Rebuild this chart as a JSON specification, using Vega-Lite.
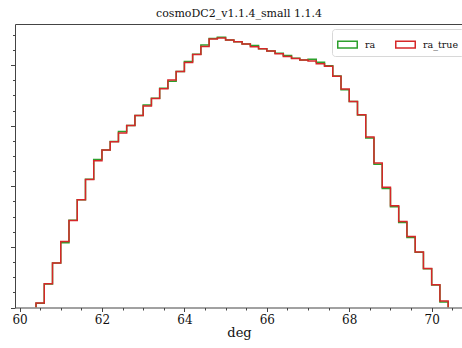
{
  "$schema": "https://vega.github.io/schema/vega-lite/v6.json",
  "autosize": "none",
  "padding": {"left": 15, "top": 24, "right": -1, "bottom": 40.5},
  "width": 448,
  "height": 283.5,
  "background": "white",
  "config": {
    "view": {"stroke": "#444", "strokeWidth": 1},
    "font": "DejaVu Serif",
    "axis": {"domain": false, "tickColor": "#444", "labelColor": "#111", "titleColor": "#111", "grid": false, "labelFont": "DejaVu Serif", "titleFont": "DejaVu Serif", "titleFontWeight": "normal"}
  },
  "title": {"text": "cosmoDC2_v1.1.4_small 1.1.4", "font": "DejaVu Serif", "fontSize": 11, "fontWeight": "normal", "color": "#111", "offset": 5},
  "data": {"values": [
    {"s": "ra", "i": 0, "x": 60.4, "n": 0},
    {"s": "ra", "i": 1, "x": 60.4, "n": 70},
    {"s": "ra", "i": 2, "x": 60.6, "n": 388},
    {"s": "ra", "i": 3, "x": 60.8, "n": 735},
    {"s": "ra", "i": 4, "x": 61.0, "n": 1070},
    {"s": "ra", "i": 5, "x": 61.2, "n": 1440},
    {"s": "ra", "i": 6, "x": 61.4, "n": 1780},
    {"s": "ra", "i": 7, "x": 61.6, "n": 2115},
    {"s": "ra", "i": 8, "x": 61.8, "n": 2441},
    {"s": "ra", "i": 9, "x": 62.0, "n": 2600},
    {"s": "ra", "i": 10, "x": 62.2, "n": 2740},
    {"s": "ra", "i": 11, "x": 62.4, "n": 2903},
    {"s": "ra", "i": 12, "x": 62.6, "n": 3005},
    {"s": "ra", "i": 13, "x": 62.8, "n": 3170},
    {"s": "ra", "i": 14, "x": 63.0, "n": 3343},
    {"s": "ra", "i": 15, "x": 63.2, "n": 3452},
    {"s": "ra", "i": 16, "x": 63.4, "n": 3619},
    {"s": "ra", "i": 17, "x": 63.6, "n": 3732},
    {"s": "ra", "i": 18, "x": 63.8, "n": 3896},
    {"s": "ra", "i": 19, "x": 64.0, "n": 4058},
    {"s": "ra", "i": 20, "x": 64.2, "n": 4178},
    {"s": "ra", "i": 21, "x": 64.4, "n": 4332},
    {"s": "ra", "i": 22, "x": 64.6, "n": 4439},
    {"s": "ra", "i": 23, "x": 64.8, "n": 4461},
    {"s": "ra", "i": 24, "x": 65.0, "n": 4415},
    {"s": "ra", "i": 25, "x": 65.2, "n": 4386},
    {"s": "ra", "i": 26, "x": 65.4, "n": 4350},
    {"s": "ra", "i": 27, "x": 65.6, "n": 4322},
    {"s": "ra", "i": 28, "x": 65.8, "n": 4270},
    {"s": "ra", "i": 29, "x": 66.0, "n": 4233},
    {"s": "ra", "i": 30, "x": 66.2, "n": 4196},
    {"s": "ra", "i": 31, "x": 66.4, "n": 4157},
    {"s": "ra", "i": 32, "x": 66.6, "n": 4112},
    {"s": "ra", "i": 33, "x": 66.8, "n": 4085},
    {"s": "ra", "i": 34, "x": 67.0, "n": 4096},
    {"s": "ra", "i": 35, "x": 67.2, "n": 4046},
    {"s": "ra", "i": 36, "x": 67.4, "n": 3990},
    {"s": "ra", "i": 37, "x": 67.6, "n": 3820},
    {"s": "ra", "i": 38, "x": 67.8, "n": 3592},
    {"s": "ra", "i": 39, "x": 68.0, "n": 3398},
    {"s": "ra", "i": 40, "x": 68.2, "n": 3176},
    {"s": "ra", "i": 41, "x": 68.4, "n": 2797},
    {"s": "ra", "i": 42, "x": 68.6, "n": 2363},
    {"s": "ra", "i": 43, "x": 68.8, "n": 1963},
    {"s": "ra", "i": 44, "x": 69.0, "n": 1663},
    {"s": "ra", "i": 45, "x": 69.2, "n": 1404},
    {"s": "ra", "i": 46, "x": 69.4, "n": 1157},
    {"s": "ra", "i": 47, "x": 69.6, "n": 910},
    {"s": "ra", "i": 48, "x": 69.8, "n": 640},
    {"s": "ra", "i": 49, "x": 70.0, "n": 372},
    {"s": "ra", "i": 50, "x": 70.2, "n": 91},
    {"s": "ra", "i": 51, "x": 70.4, "n": 0},
    {"s": "ra_true", "i": 0, "x": 60.4, "n": 0},
    {"s": "ra_true", "i": 1, "x": 60.4, "n": 73},
    {"s": "ra_true", "i": 2, "x": 60.6, "n": 391},
    {"s": "ra_true", "i": 3, "x": 60.8, "n": 733},
    {"s": "ra_true", "i": 4, "x": 61.0, "n": 1089},
    {"s": "ra_true", "i": 5, "x": 61.2, "n": 1436},
    {"s": "ra_true", "i": 6, "x": 61.4, "n": 1777},
    {"s": "ra_true", "i": 7, "x": 61.6, "n": 2112},
    {"s": "ra_true", "i": 8, "x": 61.8, "n": 2421},
    {"s": "ra_true", "i": 9, "x": 62.0, "n": 2597},
    {"s": "ra_true", "i": 10, "x": 62.2, "n": 2734},
    {"s": "ra_true", "i": 11, "x": 62.4, "n": 2878},
    {"s": "ra_true", "i": 12, "x": 62.6, "n": 3003},
    {"s": "ra_true", "i": 13, "x": 62.8, "n": 3168},
    {"s": "ra_true", "i": 14, "x": 63.0, "n": 3323},
    {"s": "ra_true", "i": 15, "x": 63.2, "n": 3449},
    {"s": "ra_true", "i": 16, "x": 63.4, "n": 3609},
    {"s": "ra_true", "i": 17, "x": 63.6, "n": 3752},
    {"s": "ra_true", "i": 18, "x": 63.8, "n": 3894},
    {"s": "ra_true", "i": 19, "x": 64.0, "n": 4043},
    {"s": "ra_true", "i": 20, "x": 64.2, "n": 4175},
    {"s": "ra_true", "i": 21, "x": 64.4, "n": 4307},
    {"s": "ra_true", "i": 22, "x": 64.6, "n": 4429},
    {"s": "ra_true", "i": 23, "x": 64.8, "n": 4446},
    {"s": "ra_true", "i": 24, "x": 65.0, "n": 4412},
    {"s": "ra_true", "i": 25, "x": 65.2, "n": 4384},
    {"s": "ra_true", "i": 26, "x": 65.4, "n": 4348},
    {"s": "ra_true", "i": 27, "x": 65.6, "n": 4302},
    {"s": "ra_true", "i": 28, "x": 65.8, "n": 4269},
    {"s": "ra_true", "i": 29, "x": 66.0, "n": 4231},
    {"s": "ra_true", "i": 30, "x": 66.2, "n": 4186},
    {"s": "ra_true", "i": 31, "x": 66.4, "n": 4142},
    {"s": "ra_true", "i": 32, "x": 66.6, "n": 4109},
    {"s": "ra_true", "i": 33, "x": 66.8, "n": 4082},
    {"s": "ra_true", "i": 34, "x": 67.0, "n": 4066},
    {"s": "ra_true", "i": 35, "x": 67.2, "n": 4021},
    {"s": "ra_true", "i": 36, "x": 67.4, "n": 3980},
    {"s": "ra_true", "i": 37, "x": 67.6, "n": 3817},
    {"s": "ra_true", "i": 38, "x": 67.8, "n": 3607},
    {"s": "ra_true", "i": 39, "x": 68.0, "n": 3399},
    {"s": "ra_true", "i": 40, "x": 68.2, "n": 3180},
    {"s": "ra_true", "i": 41, "x": 68.4, "n": 2812},
    {"s": "ra_true", "i": 42, "x": 68.6, "n": 2383},
    {"s": "ra_true", "i": 43, "x": 68.8, "n": 1983},
    {"s": "ra_true", "i": 44, "x": 69.0, "n": 1678},
    {"s": "ra_true", "i": 45, "x": 69.2, "n": 1419},
    {"s": "ra_true", "i": 46, "x": 69.4, "n": 1172},
    {"s": "ra_true", "i": 47, "x": 69.6, "n": 914},
    {"s": "ra_true", "i": 48, "x": 69.8, "n": 644},
    {"s": "ra_true", "i": 49, "x": 70.0, "n": 375},
    {"s": "ra_true", "i": 50, "x": 70.2, "n": 106},
    {"s": "ra_true", "i": 51, "x": 70.4, "n": 0}
  ]},
  "layer": [
    {
      "mark": {"type": "line", "strokeOpacity": 0},
      "encoding": {
        "x": {"field": "x", "type": "quantitative", "scale": {"domain": [59.89, 70.76], "nice": false, "zero": false},
          "axis": {"orient": "bottom", "labels": false, "title": null, "tickSize": 2.5,
            "values": [60.5, 61, 61.5, 62.5, 63, 63.5, 64.5, 65, 65.5, 66.5, 67, 67.5, 68.5, 69, 69.5, 70.5]}},
        "y": {"field": "n", "type": "quantitative", "scale": {"domain": [0, 4678], "nice": false},
          "axis": {"orient": "left", "labels": false, "title": null, "tickSize": 2.5,
            "values": [250, 500, 750, 1250, 1500, 1750, 2250, 2500, 2750, 3250, 3500, 3750, 4250, 4500]}},
        "detail": {"field": "s"}
      }
    },
    {
      "mark": {"type": "line", "interpolate": "step-after", "strokeWidth": 1.5, "clip": true},
      "encoding": {
        "x": {"field": "x", "type": "quantitative",
          "axis": {"orient": "bottom", "title": "deg", "titleFont": "DejaVu Serif", "titleFontSize": 13, "titlePadding": 1,
            "labelFont": "DejaVu Serif", "labelFontSize": 12, "labelPadding": 3, "format": "d", "tickSize": 4,
            "values": [60, 62, 64, 66, 68, 70], "labelFlush": false, "labelOverlap": false}},
        "y": {"field": "n", "type": "quantitative",
          "axis": {"orient": "left", "labels": false, "title": null, "tickSize": 4.5, "values": [0, 1000, 2000, 3000, 4000]}},
        "order": {"field": "i", "type": "quantitative"},
        "color": {"field": "s", "type": "nominal", "scale": {"domain": ["ra", "ra_true"], "range": ["#2ca02c", "#d62728"]},
          "legend": {"title": null, "orient": "none", "legendX": 317, "legendY": 5, "direction": "horizontal", "columns": 2,
            "symbolType": "M-1,-0.35L1,-0.35L1,0.35L-1,0.35Z", "symbolSize": 380, "symbolStrokeWidth": 1.5, "symbolFillColor": "transparent",
            "labelFont": "DejaVu Serif", "labelFontSize": 9.5, "labelColor": "#111", "labelOffset": 7, "columnPadding": 16,
            "padding": 5, "strokeColor": "#d8d8d8", "fillColor": "white", "cornerRadius": 3}}
      }
    }
  ],
  "resolve": {"axis": {"x": "independent", "y": "independent"}}
}
